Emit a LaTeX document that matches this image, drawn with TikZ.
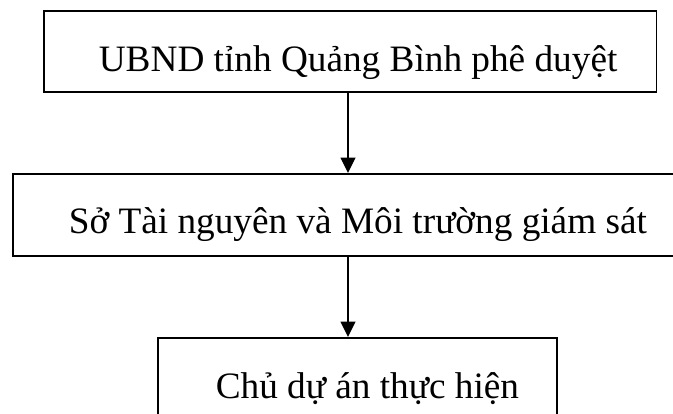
\documentclass[tikz,border=0pt]{standalone}
\usepackage{fontspec}
\setmainfont{Liberation Serif}
\usetikzlibrary{arrows.meta}
\newcommand{\pxl}[1]{\hspace*{#1\dimexpr 0.025cm\relax}}
\tikzset{
  stepbox/.style={draw,line width=1.2pt,inner sep=0pt,anchor=north west,
    font=\fontsize{26.5}{32}\selectfont},
  arr/.style={line width=1.2pt,-{Triangle[width=10.5pt,length=11pt]}}
}
\begin{document}
\begin{tikzpicture}[x=0.025cm,y=-0.025cm]
      \useasboundingbox (0,0) rectangle (673,414);
      % boxes
      \node[stepbox,text height=61*0.025cm,text depth=20*0.025cm] (ubnd) at (43,10)
        {\pxl{55}UBND tỉnh Quảng Bình phê duyệt\pxl{39}};
      \node[stepbox,text height=60*0.025cm,text depth=22*0.025cm] (so) at (12,173)
        {\pxl{56}Sở Tài nguyên và Môi trường giám sát\pxl{45}};
      \node[stepbox,text height=61*0.025cm,text depth=22*0.025cm] (chu) at (157,337)
        {\pxl{58}Chủ dự án thực hiện\pxl{38}};

      % arrows
      \coordinate (mid) at (348,0);
      \draw[arr] (ubnd.south -| mid) -- (so.north -| mid);
      \draw[arr] (so.south -| mid) -- (chu.north -| mid);
    \end{tikzpicture}
\end{document}
